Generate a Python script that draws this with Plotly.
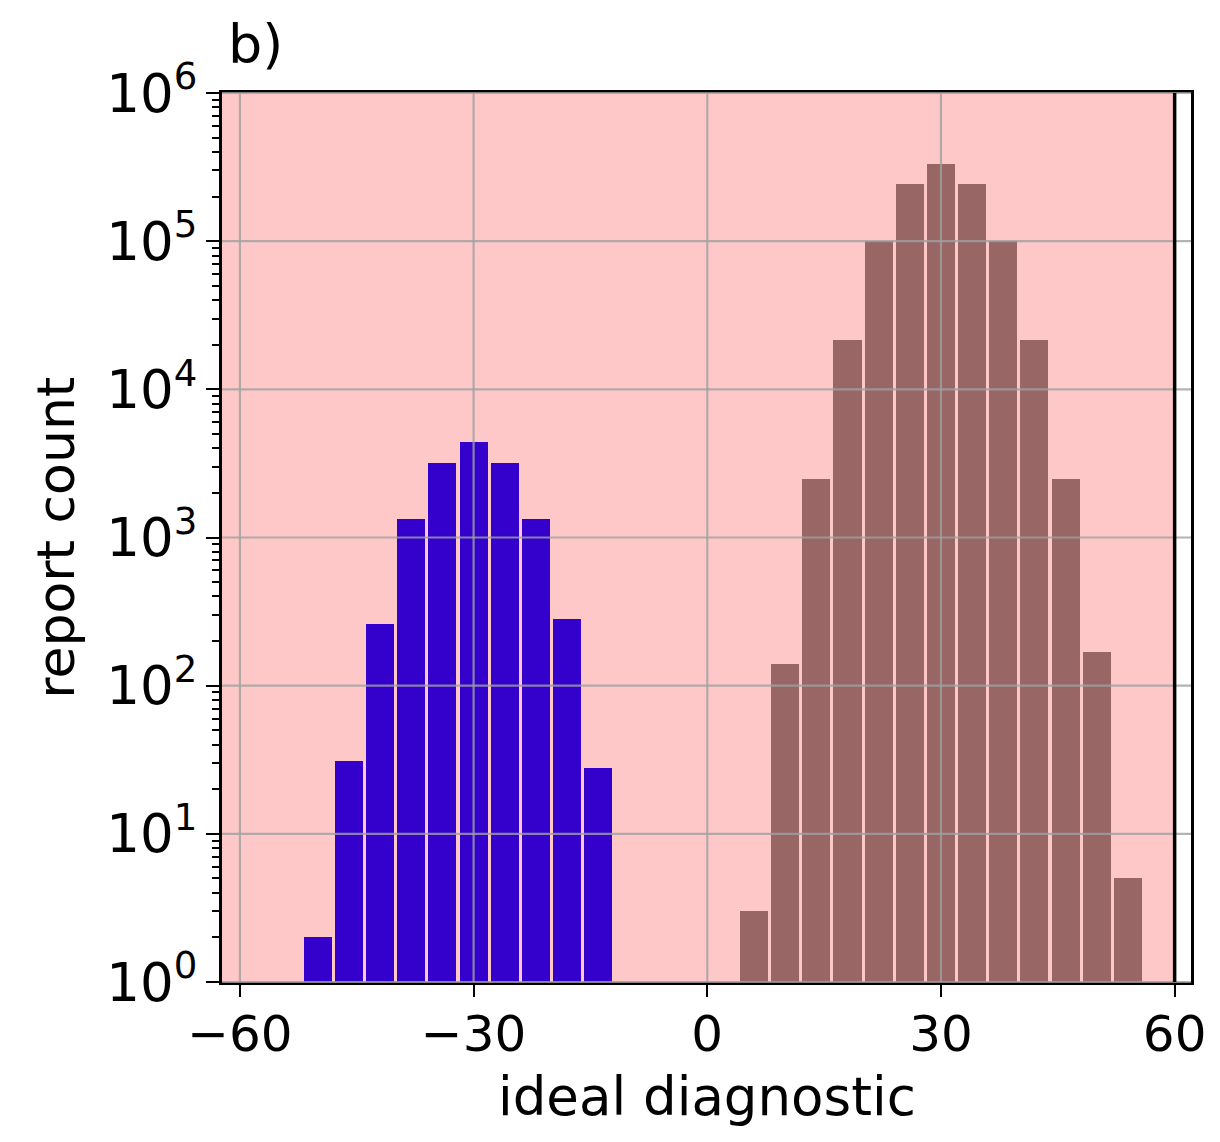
import plotly.graph_objects as go

# ---------------- data ----------------
blue_centers = [-50, -46, -42, -38, -34, -30, -26, -22, -18, -14]
blue_counts = [2, 31, 260, 1330, 3200, 4400, 3200, 1330, 280, 28]

brown_centers = [6, 10, 14, 18, 22, 26, 30, 34, 38, 42, 46, 50, 54]
brown_counts = [3, 140, 2500, 21500, 100000, 245000, 330000, 245000, 100000, 21500, 2500, 170, 5]

bar_width = 3.6
threshold = 60

x_ticks = [-60, -30, 0, 30, 60]
x_tick_text = ["\u221260", "\u221230", "0", "30", "60"]
y_exponents = [0, 1, 2, 3, 4, 5, 6]
y_ticks = [10 ** k for k in y_exponents]
y_tick_text = ["10<sup>%d</sup>" % k for k in y_exponents]

x_range = [-62.3, 62.1]
y_range_log = [0, 6]

BLUE = "#3300cc"
BROWN = "#996666"
PINK = "#ffc8c8"
GRID = "rgba(160,160,160,0.8)"
FONT = "DejaVu Sans"

fig = go.Figure()
fig.add_trace(go.Bar(x=blue_centers, y=blue_counts, width=bar_width,
                     marker=dict(color=BLUE, line=dict(width=0)), showlegend=False))
fig.add_trace(go.Bar(x=brown_centers, y=brown_counts, width=bar_width,
                     marker=dict(color=BROWN, line=dict(width=0)), showlegend=False))

shapes = []
# pink shaded region up to threshold
shapes.append(dict(type="rect", xref="x", yref="y domain", x0=x_range[0] - 5, x1=threshold,
                   y0=0, y1=1, fillcolor=PINK, line=dict(width=0), layer="below"))
# grid lines on top of bars
for xv in x_ticks:
    shapes.append(dict(type="line", xref="x", yref="y domain", x0=xv, x1=xv, y0=0, y1=1,
                       line=dict(color=GRID, width=2.2), layer="above"))
for k in y_exponents:
    yd = (k - y_range_log[0]) / (y_range_log[1] - y_range_log[0])
    shapes.append(dict(type="line", xref="x domain", yref="y domain", x0=0, x1=1, y0=yd, y1=yd,
                       line=dict(color=GRID, width=2.2), layer="above"))
# threshold line
shapes.append(dict(type="line", xref="x", yref="y domain", x0=threshold, x1=threshold, y0=0, y1=1,
                   line=dict(color="black", width=3.5), layer="above"))

fig.update_layout(
    width=1204, height=1126,
    margin=dict(l=214, r=21, t=85, b=152),
    paper_bgcolor="white", plot_bgcolor="white",
    font=dict(family=FONT, size=50, color="black"),
    bargap=0,
    shapes=shapes,
    xaxis=dict(range=x_range, tickvals=x_ticks, ticktext=x_tick_text, showgrid=False,
               zeroline=False, showline=True, linecolor="black", linewidth=3, mirror=True,
               ticks="outside", ticklen=12, tickwidth=2, tickcolor="black",
               ticklabelstandoff=-6, automargin=False,
               tickfont=dict(size=50, family=FONT)),
    yaxis=dict(type="log", range=y_range_log, tickvals=y_ticks, ticktext=y_tick_text,
               showgrid=False, zeroline=False, showline=True, linecolor="black", linewidth=3,
               mirror=True, ticks="outside", ticklen=13, tickwidth=2, tickcolor="black",
               automargin=False, ticklabelstandoff=-2,
               tickfont=dict(size=53, family=FONT),
               minor=dict(ticks="outside", ticklen=7, tickwidth=1.5, tickcolor="black",
                          dtick="D1", showgrid=False)),
    annotations=[
        dict(text="b)", xref="paper", yref="paper", x=0.004, y=1.054, xanchor="left",
             yanchor="middle", showarrow=False, font=dict(size=54, family=FONT)),
        dict(text="ideal diagnostic", xref="paper", yref="paper", x=0.5, y=-0.129,
             xanchor="center", yanchor="middle", showarrow=False, font=dict(size=53, family=FONT)),
        dict(text="report count", xref="paper", yref="paper", x=-0.172, y=0.5, textangle=-90,
             xanchor="center", yanchor="middle", showarrow=False, font=dict(size=52, family=FONT)),
    ],
)

fig.write_html("out.html")
